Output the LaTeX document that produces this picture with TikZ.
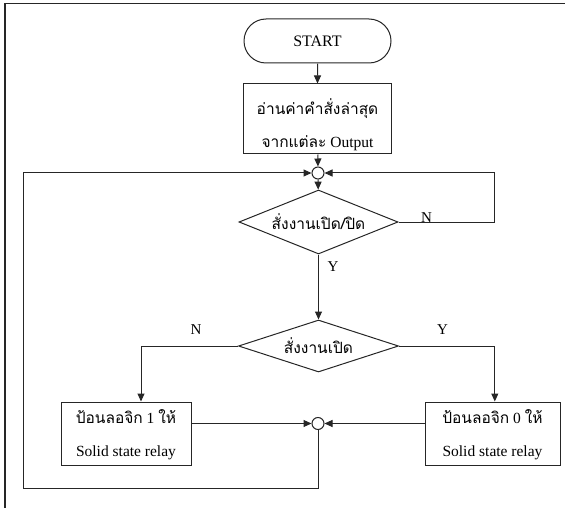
\documentclass[tikz,border=0pt]{standalone}
\usepackage{fontspec}
\setmainfont{Liberation Serif}
\newfontfamily\thaifont[Script=Thai]{Loma}
\usetikzlibrary{shapes.geometric,shapes.misc,arrows.meta}
\tikzset{
  ln/.style={draw=black!85, line width=1pt},
  arr/.style={ln, -{Triangle[length=8pt,width=7pt]}},
  procbox/.style={ln, rectangle, inner sep=0pt, align=center, font=\fontsize{15.5}{33}\selectfont},
  termbox/.style={ln, rounded rectangle, inner sep=0pt, font=\fontsize{16}{18}\selectfont},
  decbox/.style={ln, diamond, inner sep=0pt, aspect=2.5, font=\fontsize{15.5}{18}\selectfont},
  junc/.style={ln, circle, inner sep=0pt, minimum size=12pt},
  lbl/.style={font=\fontsize{15}{17}\selectfont, inner sep=0pt},
}
\begin{document}
\begin{tikzpicture}[x=1pt,y=-1pt]
\useasboundingbox (0,0) rectangle (565,508);
% outer frame (left and top only)
\draw[black!85, line width=1.2pt] (5,508) -- (5,3.3) -- (565,3.3);

\node[termbox, minimum width=147pt, minimum height=44pt] (start) at (317.5,41) {START};
\node[procbox, minimum width=148pt, minimum height=70pt] (read) at (317.5,119)
  {\rule{0pt}{27pt}{\thaifont อ่านค่าคำสั่งล่าสุด}\\{\thaifont จากแต่ละ} Output};
\node[junc] (j1) at (318,173) {};
\node[decbox, minimum width=159pt, minimum height=64pt] (d1) at (318.5,222)
  {\raisebox{-6pt}{\thaifont สั่งงานเปิด/ปิด}};
\node[decbox, minimum width=160pt, minimum height=52pt] (d2) at (318.5,346)
  {\thaifont สั่งงานเปิด};
\node[procbox, minimum width=130pt, minimum height=63pt] (p1) at (126,433.5)
  {\rule{0pt}{16pt}{\thaifont ป้อนลอจิก} 1 {\thaifont ให้}\\Solid state relay};
\node[procbox, minimum width=135pt, minimum height=63pt] (p0) at (492.5,433.5)
  {\rule{0pt}{16pt}{\thaifont ป้อนลอจิก} 0 {\thaifont ให้}\\Solid state relay};
\node[junc] (j2) at (318,423.5) {};

\coordinate (nr) at (494.8,222);
\coordinate (nt) at (494.8,173);
\coordinate (lb) at (141,346);
\coordinate (rb) at (494.8,346);
\coordinate (bl) at (23,488.7);
\coordinate (bm) at (318,488.7);
\coordinate (tl) at (23,173);

\draw[arr] (start) -- (read);
\draw[arr] (read) -- (j1);
\draw[arr] (j1) -- (d1);
\draw[arr] (d1.east) -- (nr) -- (nt) -- (j1);
\draw[arr] (d1) -- (d2);
\draw[arr] (d2.west) -- (lb) -- (lb |- p1.north);
\draw[arr] (d2.east) -- (rb) -- (rb |- p0.north);
\draw[arr] (p1.east |- j2) -- (j2);
\draw[arr] (p0.west |- j2) -- (j2);
\draw[arr] (j2) -- (bm) -- (bl) -- (tl) -- (j1);

\node[lbl] (ln1) at (426.5,218) {N};
\node[lbl] (ly1) at (333,267) {Y};
\node[lbl] (ln2) at (196,330) {N};
\node[lbl] (ly2) at (442.5,330) {Y};
\end{tikzpicture}
\end{document}
